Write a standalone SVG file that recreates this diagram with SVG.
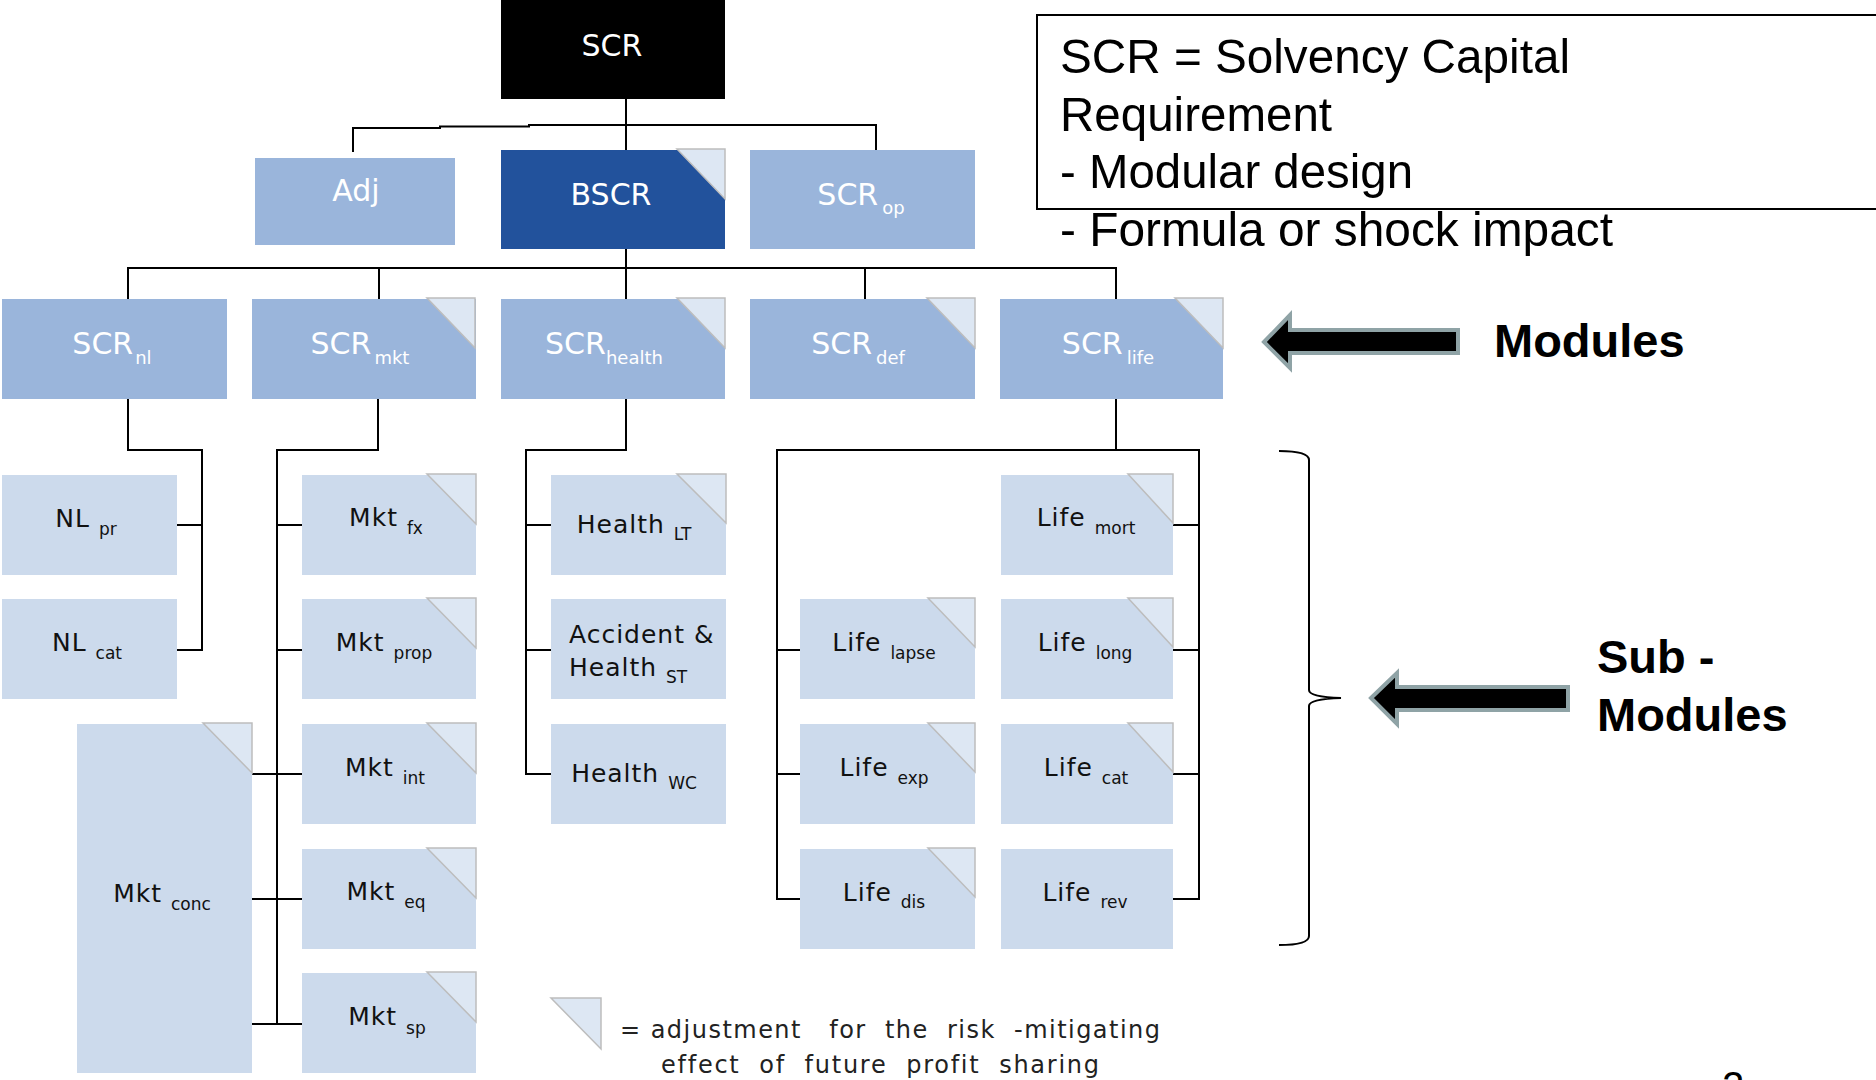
<svg xmlns="http://www.w3.org/2000/svg" width="1876" height="1080" viewBox="0 0 1876 1080">
<style>
.c{stroke:#000;stroke-width:2;fill:none}
.mod{fill:#9ab5db}
.dk{fill:#22529c}
.sub{fill:#ccdaec}
.fold{fill:#dde7f3;stroke:#bdbdbd;stroke-width:1.5}
.tw{font-family:"DejaVu Sans",sans-serif;fill:#fff;font-size:30px;text-anchor:middle}
.ts{font-family:"DejaVu Sans",sans-serif;fill:#111;font-size:25px;letter-spacing:1px;text-anchor:middle}
.sw{font-size:18px}
.sb{font-size:17px;letter-spacing:0}
.big{font-family:"Liberation Sans",Arial,sans-serif;font-size:49px;fill:#000}
.bold{font-family:"Liberation Sans",Arial,sans-serif;font-size:47px;font-weight:bold;fill:#000}
.arr{fill:#000;stroke:#8fa3a6;stroke-width:4}
.leg{font-family:"DejaVu Sans",sans-serif;fill:#222;font-size:24px;letter-spacing:1px}
</style>
<rect width="1876" height="1080" fill="#fff"/>

<g id="connectors">
<line class="c" x1="626" y1="99" x2="626" y2="150"/>
<polyline class="c" points="353,152 353,128 440,128 440,126.5 529,126.5 529,125 876,125 876,150"/>
<line class="c" x1="626" y1="249" x2="626" y2="268"/>
<polyline class="c" points="128,299 128,268 1116,268 1116,299"/>
<line class="c" x1="379" y1="268" x2="379" y2="299"/>
<line class="c" x1="865" y1="268" x2="865" y2="299"/>
<line class="c" x1="626" y1="268" x2="626" y2="299"/>
<polyline class="c" points="128,399 128,450 202,450 202,650 177,650"/>
<line class="c" x1="177" y1="525" x2="202" y2="525"/>
<polyline class="c" points="378,399 378,450 277,450 277,1024"/>
<line class="c" x1="277" y1="525" x2="302" y2="525"/>
<line class="c" x1="277" y1="650" x2="302" y2="650"/>
<line class="c" x1="251" y1="774" x2="302" y2="774"/>
<line class="c" x1="251" y1="899" x2="302" y2="899"/>
<line class="c" x1="251" y1="1024" x2="302" y2="1024"/>
<polyline class="c" points="626,399 626,450 526,450 526,774 551,774"/>
<line class="c" x1="526" y1="525" x2="551" y2="525"/>
<line class="c" x1="526" y1="650" x2="551" y2="650"/>
<line class="c" x1="1116" y1="399" x2="1116" y2="450"/>
<polyline class="c" points="800,899 777,899 777,450 1199,450 1199,899 1173,899"/>
<line class="c" x1="777" y1="650" x2="800" y2="650"/>
<line class="c" x1="777" y1="774" x2="800" y2="774"/>
<line class="c" x1="1173" y1="525" x2="1199" y2="525"/>
<line class="c" x1="1173" y1="650" x2="1199" y2="650"/>
<line class="c" x1="1173" y1="774" x2="1199" y2="774"/>
</g>

<g id="scr"><rect x="501" y="0" width="224" height="99" fill="#000"/><text class="tw" x="612" y="56">SCR</text></g>
<g id="adj"><rect class="mod" x="255" y="158" width="200" height="87"/><text class="tw" x="356" y="201">Adj</text></g>
<g id="bscr"><rect class="dk" x="501" y="150" width="224" height="99"/><polygon class="fold" points="677,149 725,149 725,199"/><text class="tw" x="611" y="205">BSCR</text></g>
<g id="scr_op"><rect class="mod" x="750" y="150" width="225" height="99"/><text class="tw" x="861" y="205">SCR<tspan class="sw" dx="4" dy="9">op</tspan></text></g>

<g id="scr_nl"><rect class="mod" x="2" y="299" width="225" height="100"/><text class="tw" x="112" y="354">SCR<tspan class="sw" dx="2" dy="10">nl</tspan></text></g>
<g id="scr_mkt"><rect class="mod" x="252" y="299" width="224" height="100"/><polygon class="fold" points="427,298 475,298 475,348"/><text class="tw" x="360" y="354">SCR<tspan class="sw" dx="3" dy="10">mkt</tspan></text></g>
<g id="scr_health"><rect class="mod" x="501" y="299" width="224" height="100"/><polygon class="fold" points="677,298 725,298 725,348"/><text class="tw" x="604" y="354">SCR<tspan class="sw" dy="10">health</tspan></text></g>
<g id="scr_def"><rect class="mod" x="750" y="299" width="225" height="100"/><polygon class="fold" points="927,298 975,298 975,348"/><text class="tw" x="858" y="354">SCR<tspan class="sw" dx="4" dy="10">def</tspan></text></g>
<g id="scr_life"><rect class="mod" x="1000" y="299" width="223" height="100"/><polygon class="fold" points="1175,298 1223,298 1223,348"/><text class="tw" x="1108" y="354">SCR<tspan class="sw" dx="4" dy="10">life</tspan></text></g>

<g id="nl_pr"><rect class="sub" x="2" y="475" width="175" height="100"/><text class="ts" x="86" y="527">NL <tspan class="sb" dy="8">pr</tspan></text></g>
<g id="nl_cat"><rect class="sub" x="2" y="599" width="175" height="100"/><text class="ts" x="87" y="651">NL <tspan class="sb" dy="8">cat</tspan></text></g>
<g id="mkt_conc"><rect class="sub" x="77" y="724" width="175" height="349"/><polygon class="fold" points="203,723 252,723 252,773"/><text class="ts" x="162" y="902">Mkt <tspan class="sb" dy="8">conc</tspan></text></g>
<g id="mkt_fx"><rect class="sub" x="302" y="475" width="174" height="100"/><polygon class="fold" points="427,474 476,474 476,524"/><text class="ts" x="386" y="526">Mkt <tspan class="sb" dy="8">fx</tspan></text></g>
<g id="mkt_prop"><rect class="sub" x="302" y="599" width="174" height="100"/><polygon class="fold" points="427,598 476,598 476,648"/><text class="ts" x="384" y="651">Mkt <tspan class="sb" dy="8">prop</tspan></text></g>
<g id="mkt_int"><rect class="sub" x="302" y="724" width="174" height="100"/><polygon class="fold" points="427,723 476,723 476,773"/><text class="ts" x="385" y="776">Mkt <tspan class="sb" dy="8">int</tspan></text></g>
<g id="mkt_eq"><rect class="sub" x="302" y="849" width="174" height="100"/><polygon class="fold" points="427,848 476,848 476,898"/><text class="ts" x="386" y="900">Mkt <tspan class="sb" dy="8">eq</tspan></text></g>
<g id="mkt_sp"><rect class="sub" x="302" y="973" width="174" height="100"/><polygon class="fold" points="427,972 476,972 476,1022"/><text class="ts" x="387" y="1025">Mkt <tspan class="sb" dy="9">sp</tspan></text></g>

<g id="health_lt"><rect class="sub" x="551" y="475" width="175" height="100"/><polygon class="fold" points="677,474 726,474 726,523"/><text class="ts" x="634" y="533">Health  <tspan class="sb" dy="7">LT</tspan></text></g>
<g id="health_st"><rect class="sub" x="551" y="599" width="175" height="100"/><text class="ts" x="569" y="643" style="text-anchor:start">Accident  &amp;</text><text class="ts" x="569" y="676" style="text-anchor:start">Health  <tspan class="sb" dy="7">ST</tspan></text></g>
<g id="health_wc"><rect class="sub" x="551" y="724" width="175" height="100"/><text class="ts" x="634" y="782">Health  <tspan class="sb" dy="7">WC</tspan></text></g>

<g id="life_mort"><rect class="sub" x="1001" y="475" width="172" height="100"/><polygon class="fold" points="1128,474 1173,474 1173,523"/><text class="ts" x="1086" y="526">Life <tspan class="sb" dy="8">mort</tspan></text></g>
<g id="life_lapse"><rect class="sub" x="800" y="599" width="175" height="100"/><polygon class="fold" points="928,598 975,598 975,647"/><text class="ts" x="884" y="651">Life <tspan class="sb" dy="8">lapse</tspan></text></g>
<g id="life_long"><rect class="sub" x="1001" y="599" width="172" height="100"/><polygon class="fold" points="1128,598 1173,598 1173,647"/><text class="ts" x="1085" y="651">Life <tspan class="sb" dy="8">long</tspan></text></g>
<g id="life_exp"><rect class="sub" x="800" y="724" width="175" height="100"/><polygon class="fold" points="928,723 975,723 975,772"/><text class="ts" x="884" y="776">Life <tspan class="sb" dy="8">exp</tspan></text></g>
<g id="life_cat"><rect class="sub" x="1001" y="724" width="172" height="100"/><polygon class="fold" points="1128,723 1173,723 1173,772"/><text class="ts" x="1086" y="776">Life <tspan class="sb" dy="8">cat</tspan></text></g>
<g id="life_dis"><rect class="sub" x="800" y="849" width="175" height="100"/><polygon class="fold" points="928,848 975,848 975,897"/><text class="ts" x="884" y="901">Life <tspan class="sb" dy="7">dis</tspan></text></g>
<g id="life_rev"><rect class="sub" x="1001" y="849" width="172" height="100"/><text class="ts" x="1085" y="901">Life <tspan class="sb" dy="7">rev</tspan></text></g>

<g id="legend">
<polygon class="fold" points="551,998 601,998 601,1049"/>
<text class="leg" x="620" y="1038" textLength="541" lengthAdjust="spacing" xml:space="preserve">= adjustment   for  the  risk  -mitigating</text>
<text class="leg" x="661" y="1073" textLength="439" lengthAdjust="spacing" xml:space="preserve">effect  of  future  profit  sharing</text>
</g>

<g id="note">
<rect x="1037" y="15" width="845" height="194" fill="none" stroke="#000" stroke-width="2"/>
<text class="big" x="1060" y="73" textLength="510" lengthAdjust="spacingAndGlyphs">SCR = Solvency Capital</text>
<text class="big" x="1060" y="131" textLength="272" lengthAdjust="spacingAndGlyphs">Requirement</text>
<text class="big" x="1060" y="188" textLength="353" lengthAdjust="spacingAndGlyphs">- Modular design</text>
<text class="big" x="1060" y="246" textLength="553" lengthAdjust="spacingAndGlyphs">- Formula or shock impact</text>
</g>

<g id="modules_label">
<polygon class="arr" points="1264,342 1290,315 1290,330 1458,330 1458,353 1290,353 1290,368"/>
<text class="bold" x="1494" y="357">Modules</text>
</g>

<g id="submodules_label">
<path class="c" d="M1279,451 Q1309,451 1309,460 L1309,690 Q1309,697 1341,698 Q1309,699 1309,706 L1309,936 Q1309,945 1279,945"/>
<polygon class="arr" points="1371,698 1397,673 1397,687 1568,687 1568,710 1397,710 1397,724"/>
<text class="bold" x="1597" y="673">Sub -</text>
<text class="bold" x="1597" y="731">Modules</text>
</g>

<text x="1722" y="1100" font-family="Liberation Sans, Arial, sans-serif" font-size="40" fill="#000">2</text>
</svg>
